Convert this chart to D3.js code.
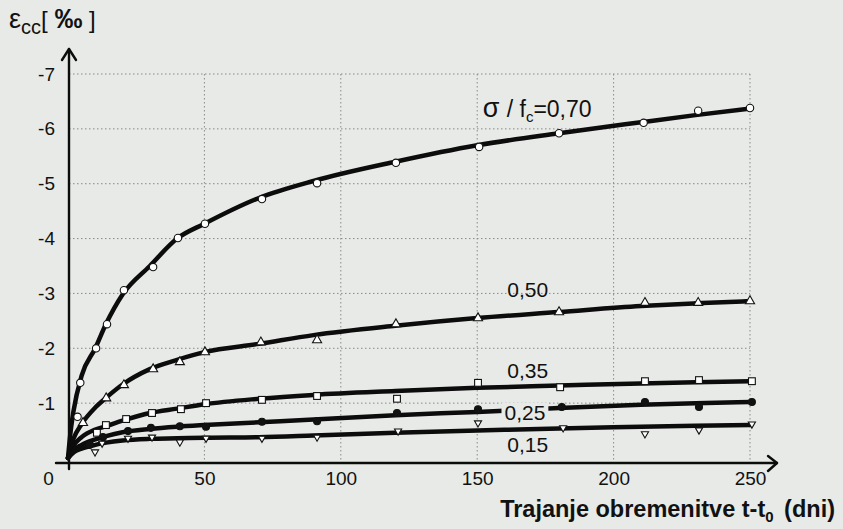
<!DOCTYPE html>
<html>
<head>
<meta charset="utf-8">
<script src="https://cdn.jsdelivr.net/npm/d3@7"></script>
<style>
  html, body { margin: 0; padding: 0; background: #e7eae7; }
  svg { display: block; font-family: "Liberation Sans", Arial, sans-serif; }
</style>
</head>
<body>
<svg id="chart" width="843" height="529"></svg>
<script>
// Creep strain of concrete under sustained load, for five stress levels σ/fc.

// Tick values
const xTicks = [0, 50, 100, 150, 200, 250];
const yTicks = [-1, -2, -3, -4, -5, -6, -7];

// Fitted curves: common days and strain [‰] per stress level
const curveDays = [0, 1, 2, 5, 10, 14, 20, 30, 40, 50, 70, 90, 120, 150, 180, 210, 230, 250];
const curve70 = [0, -0.5, -0.85, -1.5, -2.0, -2.45, -2.98, -3.5, -4.0, -4.27, -4.74, -5.05, -5.4, -5.7, -5.92, -6.12, -6.25, -6.37];
const curve50 = [0, -0.2, -0.35, -0.62, -0.92, -1.1, -1.34, -1.62, -1.79, -1.93, -2.08, -2.24, -2.41, -2.55, -2.66, -2.77, -2.82, -2.86];
const curve35 = [0, -0.12, -0.22, -0.38, -0.52, -0.58, -0.68, -0.82, -0.9, -0.98, -1.08, -1.15, -1.22, -1.28, -1.32, -1.36, -1.38, -1.4];
const curve25 = [0, -0.08, -0.14, -0.24, -0.34, -0.4, -0.47, -0.53, -0.57, -0.6, -0.65, -0.7, -0.78, -0.84, -0.91, -0.97, -1.0, -1.02];
const curve15 = [0, -0.05, -0.1, -0.17, -0.24, -0.28, -0.32, -0.35, -0.36, -0.37, -0.38, -0.41, -0.46, -0.5, -0.54, -0.57, -0.59, -0.6];

// Measured points
const days70 = [3.5, 4.5, 10.3, 14.3, 20.5, 31.2, 40.3, 50.2, 71.1, 91.3, 120.2, 150.7, 180, 211, 231, 250];
const strain70 = [-0.75, -1.37, -2.0, -2.44, -3.06, -3.48, -4.01, -4.27, -4.72, -5.01, -5.38, -5.67, -5.92, -6.11, -6.33, -6.38];
const days50 = [5.5, 14, 20.5, 31.2, 41, 50.2, 70.7, 91.3, 120.2, 150.3, 180, 211.5, 231, 250];
const strain50 = [-0.64, -1.09, -1.33, -1.62, -1.75, -1.93, -2.11, -2.15, -2.44, -2.55, -2.66, -2.83, -2.83, -2.86];
const days35 = [10.6, 13.9, 21.3, 30.8, 41.4, 50.6, 71.1, 91.3, 120.6, 150.3, 180.4, 211.5, 231.3, 250.7];
const strain35 = [-0.46, -0.6, -0.71, -0.82, -0.89, -1.0, -1.06, -1.13, -1.08, -1.37, -1.29, -1.4, -1.42, -1.4];
const days25 = [8, 12.8, 22, 30.4, 41, 50.6, 71.1, 91.3, 120.6, 150.3, 181, 211.5, 231.3, 250.7];
const strain25 = [-0.24, -0.38, -0.49, -0.55, -0.58, -0.57, -0.66, -0.67, -0.82, -0.89, -0.93, -1.02, -0.93, -1.02];
const days15 = [9.9, 12.5, 22, 30.8, 41, 50.6, 71.1, 91.3, 121, 150.3, 181.5, 211.5, 231.3, 250.7];
const strain15 = [-0.11, -0.27, -0.36, -0.38, -0.29, -0.36, -0.36, -0.38, -0.49, -0.64, -0.55, -0.44, -0.51, -0.62];

// Curve labels and the day / strain where each is placed
const labelTexts = ["0,70", "0,50", "0,35", "0,25", "0,15"];
const labelDays = [152, 161, 161, 160, 161];
const labelStrain = [-6.22, -2.93, -1.45, -0.7, -0.11];

const svg = d3.select("#chart");
const bg = "#e7eae7";
svg.append("rect").attr("width", 843).attr("height", 529).attr("fill", bg);

const x = d3.scaleLinear().domain([0, 250]).range([68, 750]);
const y = d3.scaleLinear().domain([0, -7]).range([458, 74]);
const axisY = y(0) + 5;
const axisX = x(0) + 1;
const font = "Liberation Sans, Arial, sans-serif";

// Dotted grid
const grid = svg.append("g").attr("stroke", "#8a8a8a").attr("stroke-width", 1)
  .attr("stroke-dasharray", "1.5,2.5");
grid.selectAll("line.h").data(yTicks).join("line").attr("class", "h")
  .attr("x1", axisX).attr("x2", x(250)).attr("y1", d => y(d)).attr("y2", d => y(d));
grid.selectAll("line.v").data(xTicks.slice(1)).join("line").attr("class", "v")
  .attr("x1", d => x(d)).attr("x2", d => x(d)).attr("y1", y(-7)).attr("y2", axisY);

// Axis tick labels
const yAxis = svg.append("g").attr("transform", `translate(${axisX},0)`)
  .call(d3.axisLeft(y).tickValues(yTicks).tickSize(0).tickPadding(14).tickFormat(d => String(d)));
yAxis.select(".domain").remove();
yAxis.selectAll("text").attr("font-size", 19).attr("font-family", font).attr("fill", "#111");

const xAxis = svg.append("g").attr("transform", `translate(0,${axisY})`)
  .call(d3.axisBottom(x).tickValues(xTicks).tickSize(0).tickPadding(9));
xAxis.select(".domain").remove();
xAxis.selectAll("text").attr("font-size", 19).attr("font-family", font).attr("fill", "#111")
  .attr("dx", d => d === 0 ? -20 : 0);

// Curves
const line = d3.line().x((d, i) => x(curveDays[i])).y(d => y(d)).curve(d3.curveMonotoneX);
const curves = [curve70, curve50, curve35, curve25, curve15];
svg.append("g").selectAll("path").data(curves).join("path")
  .attr("d", line).attr("fill", "none").attr("stroke", "#0c0c0c")
  .attr("stroke-width", 4.5).attr("stroke-linejoin", "round").attr("stroke-linecap", "round");

// Markers
function pts(days, strain) { return days.map((d, i) => [d, strain[i]]); }
const mk = svg.append("g").attr("stroke", "#111").attr("stroke-width", 1.1);
mk.selectAll("circle.o").data(pts(days70, strain70)).join("circle").attr("class", "o")
  .attr("cx", d => x(d[0])).attr("cy", d => y(d[1])).attr("r", 3.7).attr("fill", "#fff");
mk.selectAll("path.t").data(pts(days50, strain50)).join("path").attr("class", "t")
  .attr("transform", d => `translate(${x(d[0])},${y(d[1])})`)
  .attr("d", d3.symbol(d3.symbolTriangle, 36)).attr("fill", "#fff");
mk.selectAll("rect.s").data(pts(days35, strain35)).join("rect").attr("class", "s")
  .attr("x", d => x(d[0]) - 3.4).attr("y", d => y(d[1]) - 3.4).attr("width", 6.8).attr("height", 6.8).attr("fill", "#fff");
mk.selectAll("circle.f").data(pts(days25, strain25)).join("circle").attr("class", "f")
  .attr("cx", d => x(d[0])).attr("cy", d => y(d[1])).attr("r", 3.5).attr("fill", "#111");
mk.selectAll("path.v").data(pts(days15, strain15)).join("path").attr("class", "v")
  .attr("transform", d => `translate(${x(d[0])},${y(d[1])}) rotate(180)`)
  .attr("d", d3.symbol(d3.symbolTriangle, 22)).attr("fill", "#fff");

// Axis lines with arrow heads
const ax = svg.append("g").attr("stroke", "#0c0c0c").attr("stroke-width", 2.4).attr("fill", "none")
  .attr("stroke-linecap", "round").attr("stroke-linejoin", "round");
ax.append("line").attr("x1", axisX).attr("x2", axisX).attr("y1", axisY + 6).attr("y2", 49);
ax.append("path").attr("d", `M${axisX - 7},${60} L${axisX},${49} L${axisX + 7},${60}`);
ax.append("line").attr("x1", axisX - 13).attr("x2", 777).attr("y1", axisY).attr("y2", axisY);
ax.append("path").attr("d", `M${768},${axisY - 7} L${777},${axisY} L${768},${axisY + 8}`);

// Curve labels
const lab = svg.append("g").attr("font-size", 21).attr("fill", "#111");
labelTexts.forEach((t, i) => {
  const tx = x(labelDays[i]), ty = y(labelStrain[i]);
  const g = lab.append("g");
  const txt = g.append("text").attr("x", tx).attr("y", ty);
  if (i === 0) {
    txt.attr("font-size", 23);
    txt.append("tspan").text("σ").attr("font-size", 27);
    txt.append("tspan").text(" / f").attr("dx", 1);
    txt.append("tspan").text("c").attr("font-size", 15).attr("dy", 5);
    txt.append("tspan").text("=" + t).attr("dy", -5);
  } else {
    txt.text(t);
  }
  if (i === 3) {
    const b = txt.node().getBBox();
    g.insert("rect", "text").attr("x", b.x - 3).attr("y", b.y + 2).attr("width", b.width + 6).attr("height", b.height - 4).attr("fill", bg);
  }
});

// Axis titles
const yt = svg.append("text").attr("x", 9).attr("y", 28).attr("fill", "#111").attr("font-size", 24);
yt.append("tspan").text("ε").attr("font-size", 27);
yt.append("tspan").text("cc").attr("font-size", 20).attr("dy", 6);
yt.append("tspan").text("[ ").attr("dy", -6);
yt.append("tspan").text("‰").attr("font-weight", "bold").attr("font-size", 28);
yt.append("tspan").text(" ]");

const xt = svg.append("text").attr("x", 835).attr("y", 517).attr("text-anchor", "end")
  .attr("font-size", 23.5).attr("font-weight", "bold").attr("fill", "#111");
xt.append("tspan").text("Trajanje obremenitve t-t");
xt.append("tspan").text("0").attr("font-size", 15).attr("dy", 5);
xt.append("tspan").text(" (dni)").attr("dy", -5).attr("dx", 4);
</script>
</body>
</html>
